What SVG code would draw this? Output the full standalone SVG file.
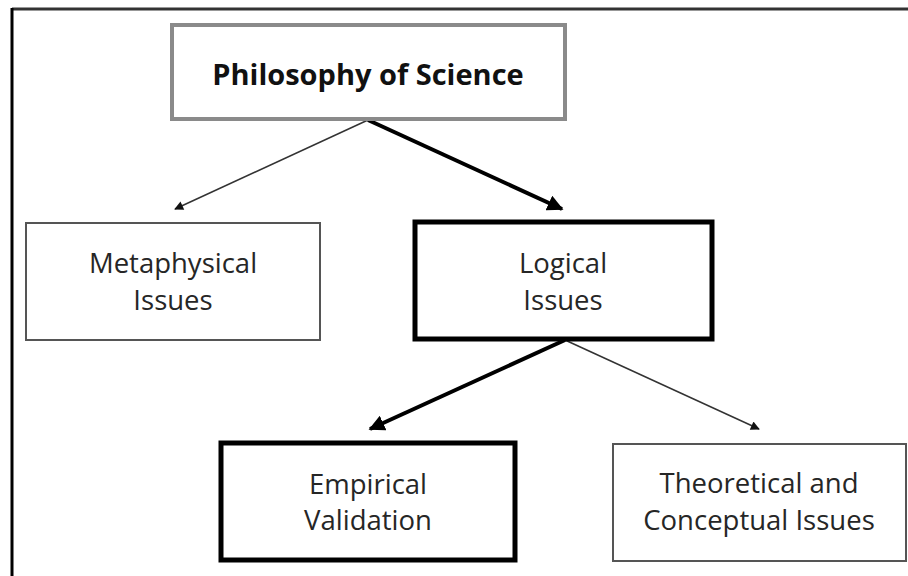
<svg xmlns="http://www.w3.org/2000/svg" width="908" height="576" viewBox="0 0 908 576">
  <style>
    .lbl { font-family: "Open Sans", "Liberation Sans", sans-serif; font-size: 27.5px; fill: #262626; text-anchor: middle; }
    .title { font-family: "Open Sans", "Liberation Sans", sans-serif; font-size: 29px; font-weight: bold; fill: #111; text-anchor: middle; }
    .thin { fill: #fff; stroke: #555; stroke-width: 2; }
    .thick { fill: #fff; stroke: #000; stroke-width: 5; }
    .c-thin { stroke: #333; stroke-width: 1.5; fill: none; }
    .c-thick { stroke: #000; stroke-width: 4; fill: none; }
  </style>
  <defs>
    <linearGradient id="topg" x1="0" y1="0" x2="1" y2="0">
      <stop offset="0" stop-color="#7a7a7a"/>
      <stop offset="0.5" stop-color="#e6e6e6"/>
      <stop offset="1" stop-color="#7a7a7a"/>
    </linearGradient>
    <marker id="ahs" viewBox="0 0 10 10" refX="9" refY="5" markerWidth="10" markerHeight="9" markerUnits="userSpaceOnUse" orient="auto">
      <path d="M0,0 L10,5 L0,10 z" fill="#111"/>
    </marker>
    <marker id="ahl" viewBox="0 0 10 10" refX="9" refY="5" markerWidth="4" markerHeight="4" orient="auto">
      <path d="M0,0 L10,5 L0,10 z" fill="#000"/>
    </marker>
  </defs>
  <rect width="908" height="576" fill="#fff"/>
  <g id="frame">
    <line x1="12" y1="9" x2="908" y2="9" stroke="#333" stroke-width="3"/>
    <line x1="12" y1="8" x2="12" y2="576" stroke="#000" stroke-width="3"/>
  </g>
  <g id="connectors">
    <line class="c-thin" x1="368" y1="120" x2="175" y2="209" marker-end="url(#ahs)"/>
    <line class="c-thick" x1="368" y1="120" x2="562" y2="209" marker-end="url(#ahl)"/>
    <line class="c-thick" x1="565" y1="340" x2="370" y2="429" marker-end="url(#ahl)"/>
    <line class="c-thin" x1="565" y1="340" x2="759" y2="429" marker-end="url(#ahs)"/>
  </g>
  <g id="philosophy">
    <rect x="172" y="25" width="393" height="94" fill="#fff" stroke="#8a8a8a" stroke-width="4"/>
    <line x1="172" y1="25" x2="565" y2="25" stroke="url(#topg)" stroke-width="4"/>
    <text class="title" x="368" y="85">Philosophy of Science</text>
  </g>
  <g id="metaphysical">
    <rect class="thin" x="26" y="223" width="294" height="117"/>
    <text class="lbl" x="173" y="273">Metaphysical</text>
    <text class="lbl" x="173" y="310">Issues</text>
  </g>
  <g id="logical">
    <rect class="thick" x="415" y="222" width="297" height="117"/>
    <text class="lbl" x="563" y="273">Logical</text>
    <text class="lbl" x="563" y="310">Issues</text>
  </g>
  <g id="empirical">
    <rect class="thick" x="221" y="443" width="294" height="117"/>
    <text class="lbl" x="368" y="494">Empirical</text>
    <text class="lbl" x="368" y="530">Validation</text>
  </g>
  <g id="theoretical">
    <rect class="thin" x="613" y="444" width="293" height="117"/>
    <text class="lbl" x="759" y="493">Theoretical and</text>
    <text class="lbl" x="759" y="530">Conceptual Issues</text>
  </g>
</svg>
